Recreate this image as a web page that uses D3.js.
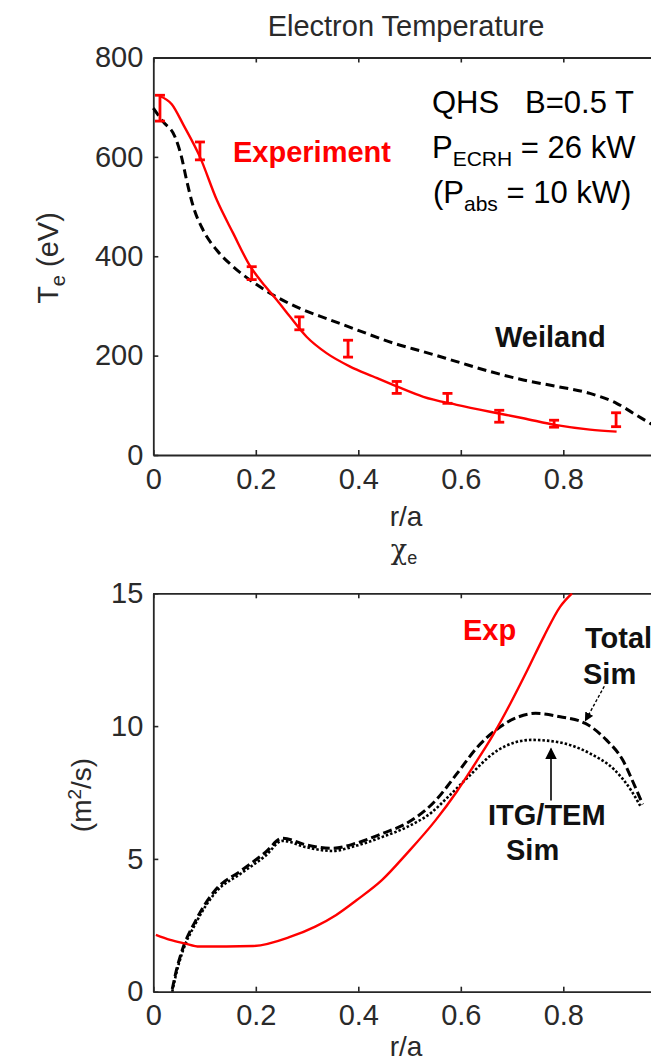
<!DOCTYPE html>
<html>
<head>
<meta charset="utf-8">
<script src="https://cdn.jsdelivr.net/npm/d3@7"></script>
<style>
  body { margin: 0; background: #fff; }
  svg text { font-family: "Liberation Sans", Arial, Helvetica, sans-serif; }
</style>
</head>
<body>
<svg id="chart" width="651" height="1063"></svg>
<script>
// ---- axis ticks ----
const rTicks = [0, 0.2, 0.4, 0.6, 0.8];
const teTicks = [0, 200, 400, 600, 800];
const chiTicks = [0, 5, 10, 15];

// ---- Te profile: measured points with error bars ----
const expR   = [0.013, 0.091, 0.192, 0.285, 0.380, 0.475, 0.574, 0.675, 0.782, 0.903];
const expTe  = [698, 612, 366, 265, 214, 136, 114, 78, 63, 71];
const expErr = [26, 18, 13, 13, 17, 12, 10, 12, 7, 14];

// ---- Te profile: experimental fit ----
const fitR  = [0.013, 0.036, 0.059, 0.091, 0.124, 0.156, 0.189, 0.218, 0.241, 0.267, 0.299, 0.338, 0.384, 0.429, 0.475, 0.527, 0.592, 0.657, 0.722, 0.787, 0.852, 0.904];
const fitTe = [722, 706, 664, 600, 513, 446, 380, 340, 312, 278, 238, 205, 178, 158, 138, 117, 101, 87, 74, 60, 51, 47];

// ---- Te profile: Weiland model ----
const weilandR  = [0.0, 0.019, 0.042, 0.055, 0.065, 0.078, 0.097, 0.124, 0.156, 0.189, 0.234, 0.286, 0.345, 0.397, 0.475, 0.527, 0.592, 0.657, 0.722, 0.787, 0.852, 0.904, 0.943, 0.969, 1.0];
const weilandTe = [698, 671, 641, 600, 553, 500, 453, 412, 379, 352, 322, 295, 272, 252, 223, 208, 188, 168, 151, 138, 124, 104, 80, 64, 45];

// ---- chi_e: experimental ----
const chiExpR   = [0.005, 0.033, 0.061, 0.090, 0.195, 0.268, 0.316, 0.357, 0.397, 0.446, 0.495, 0.551, 0.592, 0.624, 0.661, 0.697, 0.730, 0.762, 0.794, 0.817];
const chiExpVal = [2.14, 1.95, 1.82, 1.70, 1.72, 2.07, 2.45, 2.89, 3.45, 4.2, 5.21, 6.46, 7.53, 8.47, 9.6, 10.86, 12.11, 13.37, 14.5, 15.0];

// ---- chi_e: total simulation ----
const totR   = [0.037, 0.045, 0.057, 0.082, 0.122, 0.171, 0.219, 0.252, 0.300, 0.349, 0.397, 0.446, 0.495, 0.551, 0.592, 0.632, 0.673, 0.713, 0.746, 0.794, 0.843, 0.884, 0.916, 0.940, 0.955];
const totVal = [0.1, 0.8, 1.6, 2.65, 3.85, 4.55, 5.25, 5.78, 5.52, 5.4, 5.6, 5.95, 6.35, 7.2, 8.2, 9.2, 9.92, 10.35, 10.48, 10.35, 10.1, 9.48, 8.72, 7.72, 7.05];

// ---- chi_e: ITG/TEM simulation ----
const itgR   = [0.037, 0.045, 0.057, 0.082, 0.122, 0.171, 0.219, 0.252, 0.300, 0.349, 0.397, 0.446, 0.495, 0.543, 0.576, 0.610, 0.673, 0.738, 0.786, 0.851, 0.900, 0.932, 0.950];
const itgVal = [0.0, 0.7, 1.5, 2.55, 3.75, 4.45, 5.12, 5.68, 5.43, 5.3, 5.5, 5.82, 6.2, 6.75, 7.35, 8.0, 9.1, 9.48, 9.41, 8.98, 8.35, 7.59, 7.0];

const svg = d3.select("#chart");
const AXIS = "#262626";
const TXT = "#2a2a2a";
const RED = "#ff0000";

const x = d3.scaleLinear().domain([0, 1]).range([153.3, 665.8]);
const yTe = d3.scaleLinear().domain([0, 800]).range([455, 57.5]);
const yChi = d3.scaleLinear().domain([0, 15]).range([991.7, 593.3]);

function frame(g, y, yTicks) {
  const [y0, y1] = y.range();
  // bottom axis with inward ticks
  g.append("g").attr("transform", `translate(0,${y0})`)
    .call(d3.axisBottom(x).tickValues(rTicks).tickFormat(d => d3.format("")(d))
      .tickSizeInner(-5).tickSizeOuter(0).tickPadding(13));
  // top border
  g.append("g").attr("transform", `translate(0,${y1})`)
    .call(d3.axisTop(x).tickValues(rTicks).tickFormat("")
      .tickSizeInner(-5).tickSizeOuter(0));
  // left axis
  g.append("g").attr("transform", `translate(${x(0)},0)`)
    .call(d3.axisLeft(y).tickValues(yTicks).tickSizeInner(-5).tickSizeOuter(0).tickPadding(10));
  g.selectAll(".domain").attr("stroke", AXIS).attr("stroke-width", 1.8);
  g.selectAll(".tick line").attr("stroke", AXIS).attr("stroke-width", 1.6);
  g.selectAll(".tick text").attr("fill", TXT).style("font-size", "29px")
    .style("font-family", '"Liberation Sans", Arial, sans-serif');
}

// ================= Top panel: electron temperature =================
const tePanel = svg.append("g");
frame(tePanel, yTe, teTicks);

tePanel.append("text").attr("x", 406).attr("y", 36).attr("text-anchor", "middle")
  .attr("fill", TXT).style("font-size", "29px").text("Electron Temperature");

tePanel.append("text").attr("x", 406).attr("y", 526).attr("text-anchor", "middle")
  .attr("fill", TXT).style("font-size", "28px").text("r/a");

const teLab = tePanel.append("text")
  .attr("transform", "translate(58,258) rotate(-90)")
  .attr("text-anchor", "middle").attr("fill", TXT).style("font-size", "29px");
teLab.append("tspan").text("T");
teLab.append("tspan").attr("dy", 7).style("font-size", "20px").text("e");
teLab.append("tspan").attr("dy", -7).text(" (eV)");

const lineTop = d3.line().x(d => x(d[0])).y(d => yTe(d[1])).curve(d3.curveMonotoneX);

tePanel.append("path")
  .datum(d3.zip(weilandR, weilandTe))
  .attr("d", lineTop).attr("fill", "none").attr("stroke", "#000")
  .attr("stroke-width", 3).attr("stroke-dasharray", "9,5");

tePanel.append("path")
  .datum(d3.zip(fitR, fitTe))
  .attr("d", lineTop).attr("fill", "none").attr("stroke", RED)
  .attr("stroke-width", 2.4);

const bars = tePanel.append("g").attr("stroke", RED).attr("stroke-width", 2.8);
expR.forEach((r, i) => {
  const cx = x(r), hi = yTe(expTe[i] + expErr[i]), lo = yTe(expTe[i] - expErr[i]);
  bars.append("line").attr("x1", cx).attr("x2", cx).attr("y1", hi).attr("y2", lo);
  bars.append("line").attr("x1", cx - 5).attr("x2", cx + 5).attr("y1", hi).attr("y2", hi);
  bars.append("line").attr("x1", cx - 5).attr("x2", cx + 5).attr("y1", lo).attr("y2", lo);
});

tePanel.append("text").attr("x", 233).attr("y", 162).attr("fill", RED)
  .style("font-size", "29px").style("font-weight", "bold").text("Experiment");
tePanel.append("text").attr("x", 495).attr("y", 347).attr("fill", "#111")
  .style("font-size", "29px").style("font-weight", "bold").text("Weiland");

const info = tePanel.append("g").attr("fill", "#000").style("font-size", "31px");
info.append("text").attr("x", 432).attr("y", 113).attr("xml:space", "preserve").text("QHS   B=0.5 T");
const l2 = info.append("text").attr("x", 432).attr("y", 158);
l2.append("tspan").text("P");
l2.append("tspan").attr("dy", 8).style("font-size", "21px").text("ECRH");
l2.append("tspan").attr("dy", -8).text(" = 26 kW");
const l3 = info.append("text").attr("x", 433).attr("y", 203);
l3.append("tspan").text("(P");
l3.append("tspan").attr("dy", 8).style("font-size", "21px").text("abs");
l3.append("tspan").attr("dy", -8).text(" = 10 kW)");

// ================= Bottom panel: electron heat diffusivity =================
const chiPanel = svg.append("g");
frame(chiPanel, yChi, chiTicks);

const chiTitle = chiPanel.append("text").attr("x", 404).attr("y", 559).attr("text-anchor", "middle")
  .attr("fill", TXT).style("font-size", "27px");
chiTitle.append("tspan").style("font-family", '"DejaVu Serif", serif').text("χ");
chiTitle.append("tspan").attr("dy", 5).style("font-size", "18px").text("e");

chiPanel.append("text").attr("x", 406).attr("y", 1056).attr("text-anchor", "middle")
  .attr("fill", TXT).style("font-size", "28px").text("r/a");

const chiLab = chiPanel.append("text")
  .attr("transform", "translate(91,795) rotate(-90)")
  .attr("text-anchor", "middle").attr("fill", TXT).style("font-size", "28px");
chiLab.append("tspan").text("(m");
chiLab.append("tspan").attr("dy", -10).style("font-size", "19px").text("2");
chiLab.append("tspan").attr("dy", 10).text("/s)");

svg.append("clipPath").attr("id", "chiClip").append("rect")
  .attr("x", x(0)).attr("y", yChi(15)).attr("width", x(1) - x(0)).attr("height", yChi(0) - yChi(15));

const lineBot = d3.line().x(d => x(d[0])).y(d => yChi(d[1])).curve(d3.curveMonotoneX);
const curves = chiPanel.append("g").attr("clip-path", "url(#chiClip)");

curves.append("path").datum(d3.zip(itgR, itgVal)).attr("d", lineBot)
  .attr("fill", "none").attr("stroke", "#000").attr("stroke-width", 2.6)
  .attr("stroke-dasharray", "2.5,2");
curves.append("path").datum(d3.zip(totR, totVal)).attr("d", lineBot)
  .attr("fill", "none").attr("stroke", "#000").attr("stroke-width", 3)
  .attr("stroke-dasharray", "9,4");
curves.append("path").datum(d3.zip(chiExpR, chiExpVal)).attr("d", lineBot)
  .attr("fill", "none").attr("stroke", RED).attr("stroke-width", 2.4);

chiPanel.append("text").attr("x", 463).attr("y", 640).attr("fill", RED)
  .style("font-size", "29px").style("font-weight", "bold").text("Exp");
const lbl = chiPanel.append("g").attr("fill", "#111").style("font-size", "29px").style("font-weight", "bold");
lbl.append("text").attr("x", 585).attr("y", 648).text("Total");
lbl.append("text").attr("x", 583).attr("y", 684).text("Sim");
lbl.append("text").attr("x", 488).attr("y", 825).text("ITG/TEM");
lbl.append("text").attr("x", 506).attr("y", 860).text("Sim");

// arrow heads
const defs = svg.append("defs");
defs.append("marker").attr("id", "ah").attr("viewBox", "0 0 10 10")
  .attr("refX", 9).attr("refY", 5).attr("markerWidth", 9).attr("markerHeight", 9)
  .attr("markerUnits", "userSpaceOnUse").attr("orient", "auto")
  .append("path").attr("d", "M0,0 L10,5 L0,10 Z").attr("fill", "#000");
defs.append("marker").attr("id", "ah2").attr("viewBox", "0 0 10 10")
  .attr("refX", 9).attr("refY", 5).attr("markerWidth", 12).attr("markerHeight", 12)
  .attr("markerUnits", "userSpaceOnUse").attr("orient", "auto")
  .append("path").attr("d", "M0,0 L10,5 L0,10 Z").attr("fill", "#000");

// pointer to the total simulation curve
chiPanel.append("line")
  .attr("x1", x(0.880)).attr("y1", yChi(11.5)).attr("x2", x(0.843)).attr("y2", yChi(10.2))
  .attr("stroke", "#000").attr("stroke-width", 1.4).attr("stroke-dasharray", "3,2")
  .attr("marker-end", "url(#ah)");
// pointer to the ITG/TEM curve
chiPanel.append("line")
  .attr("x1", x(0.776)).attr("y1", yChi(7.2)).attr("x2", x(0.776)).attr("y2", yChi(9.15))
  .attr("stroke", "#000").attr("stroke-width", 1.6)
  .attr("marker-end", "url(#ah2)");
</script>
</body>
</html>
